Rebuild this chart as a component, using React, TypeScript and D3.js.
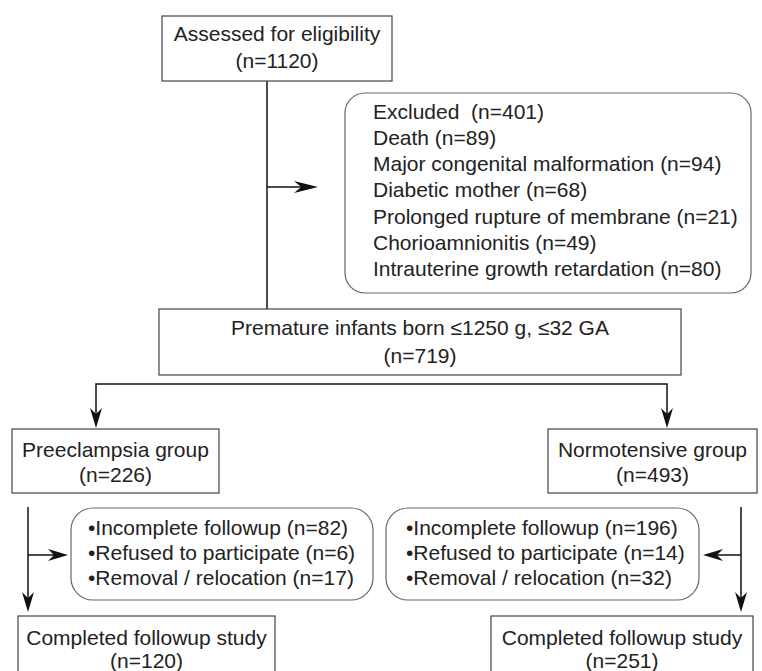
import React from "react";
import * as d3 from "d3";

// flowchart content
const screenedLines = ["Assessed for eligibility", "(n=1120)"];
const excludedLines = [
  "Excluded  (n=401)",
  "Death (n=89)",
  "Major congenital malformation (n=94)",
  "Diabetic mother (n=68)",
  "Prolonged rupture of membrane (n=21)",
  "Chorioamnionitis (n=49)",
  "Intrauterine growth retardation (n=80)",
];
const enrolledLines = ["Premature infants born \u22641250 g, \u226432 GA", "(n=719)"];
const groupNames = ["Preeclampsia group", "Normotensive group"];
const groupN = [226, 493];
const lossLabels = ["Incomplete followup", "Refused to participate", "Removal / relocation"];
const lossLeftN = [82, 6, 17];
const lossRightN = [196, 14, 32];
const completedLabel = "Completed followup study";
const completedN = [120, 251];

const W = 762;
const H = 671;
const FONT = "'Liberation Sans', Arial, Helvetica, sans-serif";
const TEXT = "#222";

const line = d3.line<[number, number]>();

// swept-back arrow head, tip at (x,y), pointing by angle (deg)
const Arrow = ({ x, y, angle, len = 20, half = 6 }: any) => (
  <path
    d={`M0,0 L${-len},${-half} L${-len * 0.7},0 L${-len},${half} Z`}
    transform={`translate(${x},${y}) rotate(${angle})`}
    fill="#111"
  />
);

const Box = ({ x, y, w, h, lines, cy, rx = 0, stroke = "#444", align = "middle", tx }: any) => (
  <g>
    <rect x={x} y={y} width={w} height={h} rx={rx} fill="#fff" stroke={stroke} strokeWidth={1.2} />
    {lines.map((t: string, i: number) => (
      <text
        key={i}
        x={align === "middle" ? x + w / 2 : tx}
        y={cy[i]}
        dy="0.36em"
        textAnchor={align}
        fontFamily={FONT}
        fontSize={21}
        fill={TEXT}
        style={{ whiteSpace: "pre" }}
      >
        {t}
      </text>
    ))}
  </g>
);

export default function App() {
  const exY = d3.range(excludedLines.length).map((i) => 111 + i * 26.3);
  const lossY = [527, 552, 577];
  const conn = { stroke: "#111", strokeWidth: 1.5, fill: "none" };

  return (
    <svg width={W} height={H} style={{ position: "absolute", left: 0, top: 0, background: "#fff" }}>
      {/* connectors */}
      <path d={line([[267, 81], [267, 309]])!} {...conn} />
      <path d={line([[267, 187], [312, 187]])!} {...conn} />
      <Arrow x={318} y={187} angle={0} len={24} half={6} />

      <path d={line([[96, 422], [96, 384], [667, 384], [667, 422]])!} {...conn} />
      <Arrow x={96} y={428} angle={90} />
      <Arrow x={667} y={428} angle={90} />

      <path d={line([[28, 507], [28, 606]])!} {...conn} />
      <path d={line([[28, 555], [62, 555]])!} {...conn} />
      <Arrow x={28} y={612} angle={90} />
      <Arrow x={68} y={555} angle={0} />

      <path d={line([[741, 507], [741, 606]])!} {...conn} />
      <path d={line([[741, 555], [709, 555]])!} {...conn} />
      <Arrow x={741} y={612} angle={90} />
      <Arrow x={703} y={555} angle={180} />

      {/* boxes */}
      <Box x={162} y={16} w={230} h={65} lines={screenedLines} cy={[33, 60]} />
      <Box
        x={345}
        y={93}
        w={406}
        h={200}
        rx={20}
        stroke="#666"
        lines={excludedLines}
        cy={exY}
        align="start"
        tx={373}
      />
      <Box x={159} y={309} w={522} h={66} lines={enrolledLines} cy={[327, 355]} />

      <Box x={12} y={429} w={207} h={64} lines={[groupNames[0], `(n=${groupN[0]})`]} cy={[449, 474]} />
      <Box x={548} y={429} w={209} h={64} lines={[groupNames[1], `(n=${groupN[1]})`]} cy={[449, 474]} />

      <Box
        x={71}
        y={508}
        w={302}
        h={92}
        rx={22}
        stroke="#666"
        lines={lossLabels.map((l, i) => `\u2022${l} (n=${lossLeftN[i]})`)}
        cy={lossY}
        align="start"
        tx={88}
      />
      <Box
        x={386}
        y={508}
        w={313}
        h={92}
        rx={22}
        stroke="#666"
        lines={lossLabels.map((l, i) => `\u2022${l} (n=${lossRightN[i]})`)}
        cy={lossY}
        align="start"
        tx={406}
      />

      <Box x={18} y={616} w={257} h={70} lines={[completedLabel, `(n=${completedN[0]})`]} cy={[637, 660]} />
      <Box x={491} y={616} w={262} h={70} lines={[completedLabel, `(n=${completedN[1]})`]} cy={[637, 660]} />
    </svg>
  );
}
